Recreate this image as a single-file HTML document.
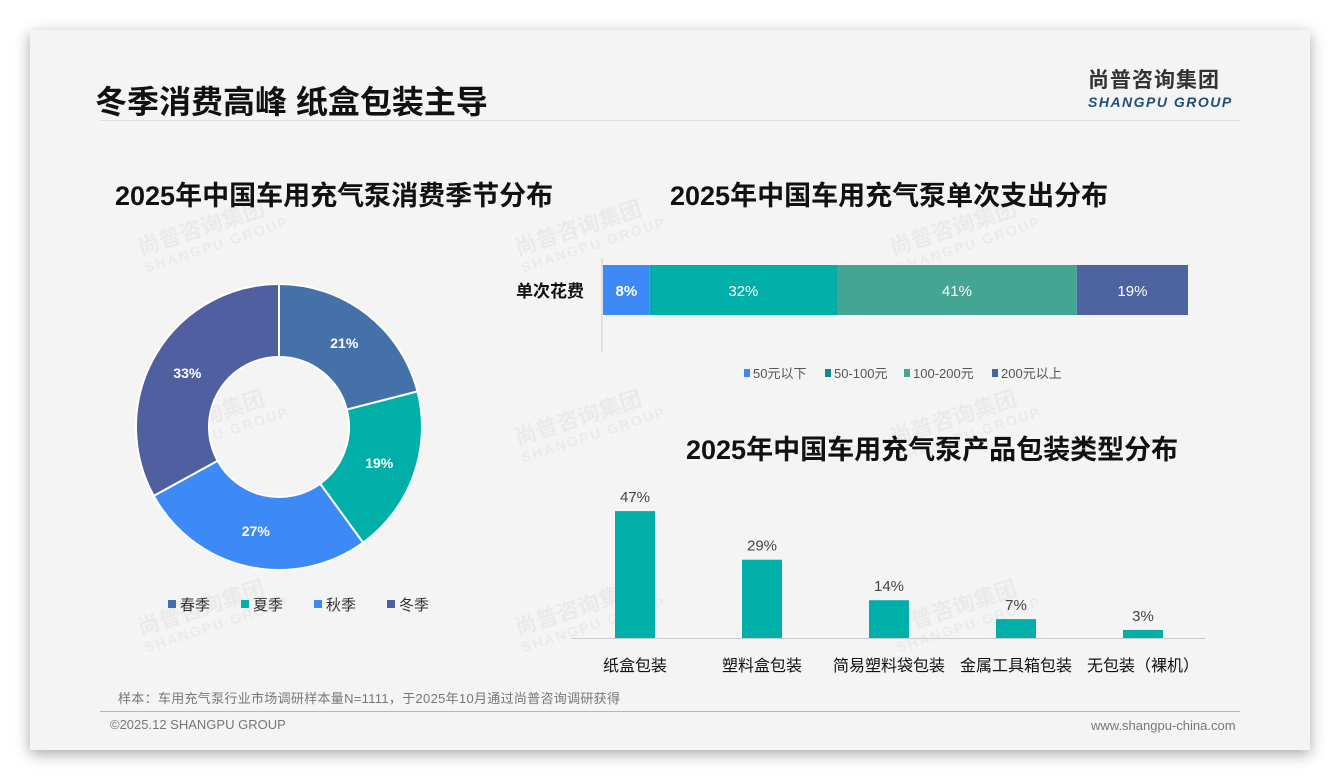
<!DOCTYPE html>
<html><head><meta charset="utf-8"><style>
body{margin:0;width:1340px;height:780px;background:#fff;font-family:"Liberation Sans","Noto Sans CJK SC",sans-serif;position:relative;overflow:hidden}
.slide{position:absolute;left:30px;top:30px;width:1280px;height:720px;background:#f4f4f4;box-shadow:0 4px 14px rgba(0,0,0,.35)}
.abs{position:absolute}
.t{font-weight:bold;color:#111;white-space:nowrap}
.wm{position:absolute;color:rgba(0,0,0,0.04);font-weight:bold;font-size:22px;transform:rotate(-18deg);line-height:20px;white-space:nowrap}
.wm span{font-size:14px;letter-spacing:2px;display:block}
</style></head><body>
<div class="slide"></div>
<div class="wm" style="left:138px;top:215px">尚普咨询集团<span>SHANGPU GROUP</span></div>
<div class="wm" style="left:515px;top:215px">尚普咨询集团<span>SHANGPU GROUP</span></div>
<div class="wm" style="left:890px;top:215px">尚普咨询集团<span>SHANGPU GROUP</span></div>
<div class="wm" style="left:138px;top:405px">尚普咨询集团<span>SHANGPU GROUP</span></div>
<div class="wm" style="left:515px;top:405px">尚普咨询集团<span>SHANGPU GROUP</span></div>
<div class="wm" style="left:890px;top:405px">尚普咨询集团<span>SHANGPU GROUP</span></div>
<div class="wm" style="left:138px;top:595px">尚普咨询集团<span>SHANGPU GROUP</span></div>
<div class="wm" style="left:515px;top:595px">尚普咨询集团<span>SHANGPU GROUP</span></div>
<div class="wm" style="left:890px;top:595px">尚普咨询集团<span>SHANGPU GROUP</span></div>
<div class="abs t" style="left:95px;top:77px;font-size:32px">冬季消费高峰 纸盒包装主导</div>
<div class="abs" style="left:1088px;top:64px;text-align:left">
 <div style="font-size:21px;font-weight:bold;color:#333;letter-spacing:1px">尚普咨询集团</div>
 <div style="font-size:14px;font-weight:bold;font-style:italic;color:#1f4e79;letter-spacing:1.5px">SHANGPU GROUP</div>
</div>
<div class="abs" style="left:100px;top:120px;width:1140px;height:1px;background:#ddd"></div>
<div class="abs t" style="left:115px;top:174px;font-size:27px">2025年中国车用充气泵消费季节分布</div>
<div class="abs t" style="left:670px;top:174px;font-size:27px">2025年中国车用充气泵单次支出分布</div>
<div class="abs t" style="left:686px;top:428px;font-size:27px">2025年中国车用充气泵产品包装类型分布</div>
<svg class="abs" style="left:0;top:0" width="1340" height="780" id="chart"></svg>
<div class="abs" style="left:118px;top:688px;font-size:13px;color:#777;letter-spacing:0.3px">样本：车用充气泵行业市场调研样本量N=1111，于2025年10月通过尚普咨询调研获得</div>
<div class="abs" style="left:100px;top:711px;width:1140px;height:1px;background:#aab8c8"></div>
<div class="abs" style="left:110px;top:717px;font-size:13px;color:#777">©2025.12 SHANGPU GROUP</div>
<div class="abs" style="left:1091px;top:718px;font-size:13px;color:#777">www.shangpu-china.com</div>
<script>
const seasons=["春季","夏季","秋季","冬季"];
const seasonVals=[21,19,27,33];
const seasonColors=["#4472a8","#00b0a8","#3d8af7","#4f5fa0"];
const spendCats=["50元以下","50-100元","100-200元","200元以上"];
const spendVals=[8,32,41,19];
const spendColors=["#3d8af7","#00b0a8","#43a592","#4d64a0"];
const spendLegendColors=["#3d8af7","#17858f","#43a592","#4d64a0"];
const packCats=["纸盒包装","塑料盒包装","简易塑料袋包装","金属工具箱包装","无包装（裸机）"];
const packVals=[47,29,14,7,3];
const NS="http://www.w3.org/2000/svg";
const svg=document.getElementById('chart');
function mk(tag,attrs,parent){const e=document.createElementNS(NS,tag);for(const k in attrs)e.setAttribute(k,attrs[k]);(parent||svg).appendChild(e);return e;}
function txt(s,x,y,attrs){const e=mk('text',Object.assign({x:x,y:y,'font-family':'"Liberation Sans","Noto Sans CJK SC",sans-serif'},attrs));e.textContent=s;return e;}
// donut
const cx=279,cy=427,R=143,r=70;
const tot=seasonVals.reduce((a,b)=>a+b,0);
let a0=-Math.PI/2;
seasonVals.forEach((v,i)=>{
 const a1=a0+v/tot*2*Math.PI;
 const lg=(a1-a0)>Math.PI?1:0;
 const p=`M${cx+R*Math.cos(a0)},${cy+R*Math.sin(a0)} A${R},${R} 0 ${lg} 1 ${cx+R*Math.cos(a1)},${cy+R*Math.sin(a1)} L${cx+r*Math.cos(a1)},${cy+r*Math.sin(a1)} A${r},${r} 0 ${lg} 0 ${cx+r*Math.cos(a0)},${cy+r*Math.sin(a0)} Z`;
 const s=mk('path',{d:p,fill:seasonColors[i],stroke:'#fff','stroke-width':2});
 
 
 const am=(a0+a1)/2,rm=(R+r)/2;
 const l=txt(v+'%',cx+rm*Math.cos(am),cy+rm*Math.sin(am)+5,{fill:'#fff','font-size':14,'font-weight':'bold','text-anchor':'middle'});
 
 
 a0=a1;
});
seasons.forEach((s,i)=>{
 const x=168+i*73;
 const m=mk('rect',{x:x,y:600,width:8,height:8,fill:seasonColors[i]});
 
 
 const t=txt(s,x+12,610,{fill:'#333','font-size':15});
 
 
});
// stacked bar
const bx0=603,bw=585,by=265,bh=50;
mk('line',{x1:602,y1:258,x2:602,y2:352,stroke:'#ccc'});
const yl=txt('单次花费',584,297,{fill:'#111','font-size':17,'font-weight':'bold','text-anchor':'end'});


const stot=spendVals.reduce((a,b)=>a+b,0);
let xx=bx0;
spendVals.forEach((v,i)=>{
 const w=v/stot*bw;
 const s=mk('rect',{x:xx,y:by,width:w,height:bh,fill:spendColors[i]});
 
 
 const l=txt(v+'%',xx+w/2,by+31,{fill:'#fff','font-size':15,'font-weight':i==0?'bold':'normal','text-anchor':'middle'});
 
 
 xx+=w;
});
const lx=[744,825,904,992];
spendCats.forEach((c,i)=>{
 const m=mk('rect',{x:lx[i],y:369,width:6,height:8,fill:spendLegendColors[i]});
 
 
 const t=txt(c,lx[i]+9,378,{fill:'#555','font-size':13});
 
 
});
// column chart
const base=638,scale=2.7,c0=635,step=127,cw=40;
const ax=mk('line',{x1:572,y1:base+0.5,x2:1205,y2:base+0.5,stroke:'#ccc'});


packVals.forEach((v,i)=>{
 const cxp=c0+i*step,h=v*scale;
 const b=mk('rect',{x:cxp-cw/2,y:base-h,width:cw,height:h,fill:'#00b0a8'});
 
 
 const l=txt(v+'%',cxp,base-h-9,{fill:'#444','font-size':15,'text-anchor':'middle'});
 
 
 const c=txt(packCats[i],cxp,671,{fill:'#111','font-size':16,'text-anchor':'middle'});
 
 
});
</script>
</body></html>
